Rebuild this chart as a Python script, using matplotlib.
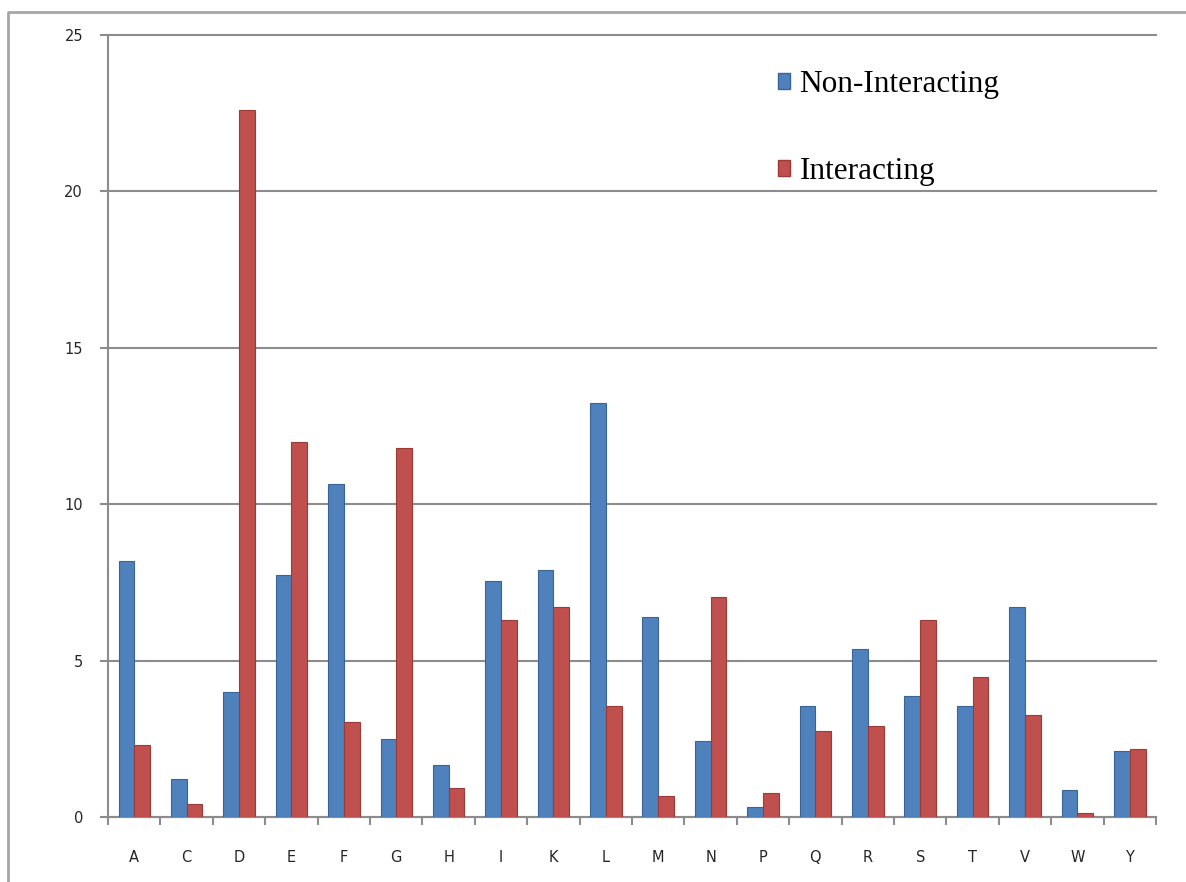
import matplotlib.pyplot as plt
from matplotlib.lines import Line2D
from matplotlib.patches import Patch
import numpy as np

residues = ['A', 'C', 'D', 'E', 'F', 'G', 'H', 'I', 'K', 'L',
            'M', 'N', 'P', 'Q', 'R', 'S', 'T', 'V', 'W', 'Y']
non_interacting = [8.2, 1.2, 4.0, 7.75, 10.65, 2.5, 1.65, 7.55, 7.9, 13.23,
                   6.4, 2.43, 0.32, 3.55, 5.37, 3.87, 3.55, 6.71, 0.86, 2.12]
interacting = [2.3, 0.4, 22.6, 12.0, 3.05, 11.8, 0.93, 6.3, 6.7, 3.55,
               0.67, 7.03, 0.77, 2.75, 2.9, 6.3, 4.47, 3.25, 0.13, 2.17]

blue = '#4F81BD'
red = '#C0504D'
grey = '#8C8C8C'

fig = plt.figure(figsize=(11.86, 8.82), dpi=100)
ax = fig.add_axes([0.0911, 0.0737, 0.8836, 0.8866])

x = np.arange(len(residues))
w = 0.3
ax.bar(x - w/2, non_interacting, w, color=blue, edgecolor='#3A6496', linewidth=0.8, zorder=3)
ax.bar(x + w/2, interacting, w, color=red, edgecolor='#9B3B38', linewidth=0.8, zorder=3)

ax.set_xlim(-0.5, len(residues) - 0.5)
ax.set_ylim(0, 25)
ax.set_yticks([0, 5, 10, 15, 20, 25])
ax.yaxis.grid(True, color=grey, linewidth=1.5, zorder=0)
for gl in ax.yaxis.get_gridlines():
    gl.set_clip_on(False)

ax.set_xticks(x)
ax.set_xticklabels(residues)
ax.set_xticks(np.arange(-0.5, len(residues)), minor=True)
ax.tick_params(axis='x', which='major', length=0, pad=24, labelsize=10.5, labelcolor='#262626')
ax.tick_params(axis='x', which='minor', length=6, width=1.5, color=grey, direction='out')
ax.tick_params(axis='y', length=6, width=1.5, color=grey, pad=12, labelsize=10.5, labelcolor='#262626')

for s in ['top', 'right']:
    ax.spines[s].set_visible(False)
for s in ['left', 'bottom']:
    ax.spines[s].set_color(grey)
    ax.spines[s].set_linewidth(1.5)

handles = [Patch(facecolor=blue, edgecolor='#3A6496'),
           Patch(facecolor=red, edgecolor='#9B3B38')]
ax.legend(handles, ['Non-Interacting', 'Interacting'], loc='upper left',
          bbox_to_anchor=(0.612, 0.991), frameon=False,
          prop={'family': 'Liberation Serif', 'size': 22.5},
          handlelength=0.4, handleheight=0.4, handletextpad=0.3,
          labelspacing=1.85)

# outer chart border (left and top edges)
fig.add_artist(Line2D([8/1186, 8/1186, 1.0], [0.0, 1 - 12/882, 1 - 12/882],
                      transform=fig.transFigure, color='#A6A6A6', linewidth=2))

fig.savefig('out.png', dpi=100)
